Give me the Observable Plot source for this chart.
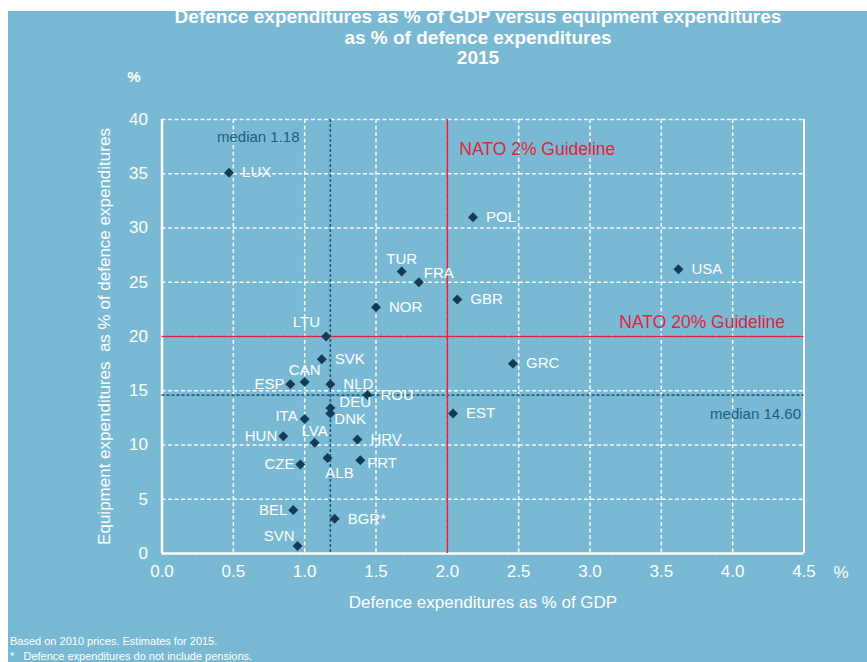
<!DOCTYPE html>
<html>
<head>
<meta charset="utf-8">
<script src="https://cdn.jsdelivr.net/npm/d3@7"></script>
<script src="https://cdn.jsdelivr.net/npm/@observablehq/plot@0.6"></script>
<style>
  html, body { margin: 0; padding: 0; background: #ffffff; width: 867px; height: 662px; overflow: hidden; }
  #bg { position: absolute; left: 8px; top: 11px; right: 0; bottom: 0; background: #79b9d3; }
  #chart { position: absolute; left: 0; top: 0; }
  #title { position: absolute; left: 100px; width: 756px; top: 7px; text-align: center; color: #fff;
           font-family: "Liberation Sans Narrow", "Liberation Sans", Arial, sans-serif; font-weight: bold;
           font-size: 19px; line-height: 20.5px; }
  #foot { position: absolute; left: 10px; top: 634px; color: #fff;
          font-family: "Liberation Sans Narrow", "Liberation Sans", Arial, sans-serif; font-size: 11px; line-height: 15px; }
</style>
</head>
<body>
<div id="bg"></div>
<div id="chart"></div>
<div id="title">Defence expenditures as % of GDP versus equipment expenditures<br>as % of defence expenditures<br>2015</div>
<div id="foot">Based on 2010 prices. Estimates for 2015.<br>*&nbsp;&nbsp; Defence expenditures do not include pensions.</div>
<script>
// ---- data ----
const countries   = ["LUX","POL","TUR","FRA","USA","GBR","NOR","LTU","SVK","GRC","CAN","ESP","NLD","ROU","DEU","DNK","EST","ITA","HUN","LVA","HRV","CZE","ALB","PRT","BEL","BGR*","SVN"];
const gdpShare    = [0.47, 2.18, 1.68, 1.80, 3.62, 2.07, 1.50, 1.15, 1.12, 2.46, 1.00, 0.90, 1.18, 1.44, 1.18, 1.18, 2.04, 1.00, 0.85, 1.07, 1.37, 0.97, 1.16, 1.39, 0.92, 1.21, 0.95];
const equipShare  = [35.1, 31.0, 26.0, 25.0, 26.2, 23.4, 22.7, 20.0, 17.9, 17.5, 15.8, 15.6, 15.6, 14.6, 13.4, 12.9, 12.9, 12.4, 10.8, 10.2, 10.5, 8.2, 8.8, 8.6, 4.0, 3.2, 0.7];
const medianGdp = 1.18;
const medianEquip = 14.60;
const natoGdpGuideline = 2;
const natoEquipGuideline = 20;
const xTicks = [0, 0.5, 1, 1.5, 2, 2.5, 3, 3.5, 4, 4.5];
const yTicks = [0, 5, 10, 15, 20, 25, 30, 35, 40];

// label placement groups
const labelsRight   = ["LUX","POL","USA","GBR","NOR","GRC","SVK","NLD","ROU","EST","HRV","BGR*"];
const labelsLeft    = ["ESP","HUN","CZE","BEL"];
const labelsAbove   = ["TUR","CAN","LVA"];

const data = countries.map((c, i) => ({country: c, x: gdpShare[i], y: equipShare[i]}));
const pick = (names) => data.filter(d => names.includes(d.country));
const one = (name) => data.filter(d => d.country === name);

const white = "#ffffff";
const red = "#e2233e";
const teal = "#1b5f7c";
const navy = "#143a56";
const labelFont = 15;

const plot = Plot.plot({
  width: 867,
  height: 662,
  marginLeft: 161.5,
  marginRight: 63.5,
  marginTop: 119,
  marginBottom: 109,
  x: {domain: [0, 4.5]},
  y: {domain: [0, 40]},
  style: {background: "transparent", color: white, fontFamily: "'Liberation Sans', Arial, sans-serif", overflow: "visible"},
  marks: [
    Plot.gridX(xTicks, {stroke: white, strokeOpacity: 0.95, strokeWidth: 1.5, strokeDasharray: "4,2.5"}),
    Plot.gridY(yTicks, {stroke: white, strokeOpacity: 0.95, strokeWidth: 1.5, strokeDasharray: "4,2.5"}),
    Plot.ruleX([0], {stroke: white, strokeWidth: 2.5}),
    Plot.ruleX([4.5], {stroke: white, strokeWidth: 2}),
    Plot.ruleY([0], {stroke: white, strokeWidth: 2.5}),
    Plot.ruleX([medianGdp], {stroke: teal, strokeWidth: 1.6, strokeDasharray: "3,2"}),
    Plot.ruleY([medianEquip], {stroke: teal, strokeWidth: 1.6, strokeDasharray: "3,2"}),
    Plot.ruleX([natoGdpGuideline], {stroke: red, strokeWidth: 1.6}),
    Plot.ruleY([natoEquipGuideline], {stroke: red, strokeWidth: 1.6}),
    Plot.axisX({ticks: xTicks, tickSize: 0, tickPadding: 11, tickFormat: d3.format(".1f"), fontSize: 17, label: null}),
    Plot.axisY({ticks: yTicks, tickSize: 0, tickPadding: 14, fontSize: 17, label: null}),
    Plot.text(["%"], {frameAnchor: "bottom-right", dx: 37, dy: 19, textAnchor: "middle", lineAnchor: "middle", fontSize: 17, fill: white}),
    Plot.text(["%"], {frameAnchor: "top-left", dx: -28, dy: -42, textAnchor: "middle", lineAnchor: "middle", fontSize: 15, fontWeight: "bold", fill: white}),
    Plot.text(["Defence expenditures as % of GDP"], {frameAnchor: "bottom", dy: 49, textAnchor: "middle", lineAnchor: "middle", fontSize: 17, fill: white}),
    Plot.text(["Equipment expenditures \u00a0as % of defence expenditures"], {frameAnchor: "left", dx: -57.5, rotate: -90, textAnchor: "middle", lineAnchor: "middle", fontSize: 17, fill: white}),
    Plot.text([`median ${medianGdp.toFixed(2)}`], {frameAnchor: "top-left", dx: 55, dy: 18, textAnchor: "start", lineAnchor: "middle", fontSize: 15, fill: teal}),
    Plot.text([`median ${medianEquip.toFixed(2)}`], {x: () => 4.5, y: () => medianEquip, dx: -3, dy: 19, textAnchor: "end", lineAnchor: "middle", fontSize: 15, fill: teal}),
    Plot.text(["NATO 2% Guideline"], {x: () => natoGdpGuideline, y: () => 40, dx: 12, dy: 30, textAnchor: "start", lineAnchor: "middle", fontSize: 17.5, fill: red}),
    Plot.text(["NATO 20% Guideline"], {x: () => 4.5, y: () => natoEquipGuideline, dx: -19, dy: -14, textAnchor: "end", lineAnchor: "middle", fontSize: 17.5, fill: red}),
    Plot.dot(data, {x: "x", y: "y", symbol: "diamond2", r: 4.5, fill: navy}),
    // labels
    Plot.text(pick(labelsRight), {x: "x", y: "y", text: "country", dx: 13, textAnchor: "start", lineAnchor: "middle", fontSize: labelFont, fill: white}),
    Plot.text(pick(labelsLeft), {x: "x", y: "y", text: "country", dx: -6, textAnchor: "end", lineAnchor: "middle", fontSize: labelFont, fill: white}),
    Plot.text(pick(labelsAbove), {x: "x", y: "y", text: "country", dy: -12, textAnchor: "middle", lineAnchor: "middle", fontSize: labelFont, fill: white}),
    Plot.text(one("FRA"), {x: "x", y: "y", text: "country", dx: 5, dy: -9, textAnchor: "start", lineAnchor: "middle", fontSize: labelFont, fill: white}),
    Plot.text(one("LTU"), {x: "x", y: "y", text: "country", dx: -6, dy: -14, textAnchor: "end", lineAnchor: "middle", fontSize: labelFont, fill: white}),
    Plot.text(one("DEU"), {x: "x", y: "y", text: "country", dx: 9, dy: -6, textAnchor: "start", lineAnchor: "middle", fontSize: labelFont, fill: white}),
    Plot.text(one("DNK"), {x: "x", y: "y", text: "country", dx: 4, dy: 6, textAnchor: "start", lineAnchor: "middle", fontSize: labelFont, fill: white}),
    Plot.text(one("ITA"), {x: "x", y: "y", text: "country", dx: -7, dy: -3, textAnchor: "end", lineAnchor: "middle", fontSize: labelFont, fill: white}),
    Plot.text(one("ALB"), {x: "x", y: "y", text: "country", dx: 12, dy: 15, textAnchor: "middle", lineAnchor: "middle", fontSize: labelFont, fill: white}),
    Plot.text(one("PRT"), {x: "x", y: "y", text: "country", dx: 7, dy: 3, textAnchor: "start", lineAnchor: "middle", fontSize: labelFont, fill: white}),
    Plot.text(one("SVN"), {x: "x", y: "y", text: "country", dx: -3, dy: -10, textAnchor: "end", lineAnchor: "middle", fontSize: labelFont, fill: white})
  ]
});
document.getElementById("chart").appendChild(plot);
</script>
</body>
</html>
